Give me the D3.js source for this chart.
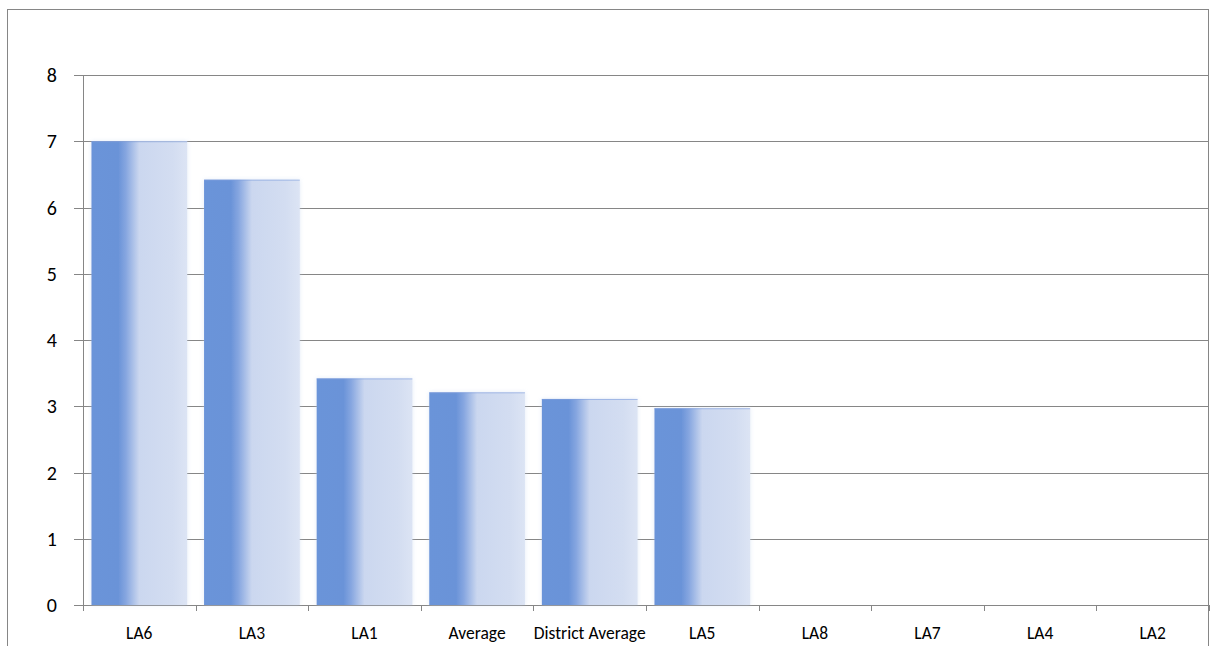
<!DOCTYPE html>
<html>
<head>
<meta charset="utf-8">
<script src="https://cdn.jsdelivr.net/npm/d3@7"></script>
<style>
  body { margin: 0; background: #fff; }
  svg { display: block; }
</style>
</head>
<body>
<svg id="chart" width="1213" height="646"></svg>
<script>
var categories = ["LA6", "LA3", "LA1", "Average", "District Average", "LA5", "LA8", "LA7", "LA4", "LA2"];
var values = [7.0, 6.42, 3.42, 3.21, 3.11, 2.97, 0, 0, 0, 0];
var yTicks = [0, 1, 2, 3, 4, 5, 6, 7, 8];

var W = 1213, H = 646;
var margin = { left: 83, right: 4, top: 75, bottom: 41 };
var fontFam = "Carlito, Lato, 'Open Sans', sans-serif";

var svg = d3.select("#chart");

// outer frame
svg.append("rect")
  .attr("x", 7.5).attr("y", 9.5)
  .attr("width", 1201).attr("height", 700)
  .attr("fill", "none")
  .attr("stroke", "#868686")
  .attr("stroke-width", 1);

var x = d3.scaleBand()
  .domain(categories)
  .range([margin.left, W - margin.right])
  .paddingInner(0.15)
  .paddingOuter(0.075);

var y = d3.scaleLinear().domain([0, 8]).range([H - margin.bottom, margin.top]);

var defs = svg.append("defs");
var grad = defs.append("linearGradient").attr("id", "barGrad")
  .attr("x1", "0").attr("x2", "1").attr("y1", "0").attr("y2", "0");
[[0, "#6b94d9"], [0.28, "#6a93d8"], [0.36, "#86a6e0"], [0.5, "#cbd7ef"], [0.85, "#d3ddf1"], [1, "#dce4f4"]]
  .forEach(function (s) {
    grad.append("stop").attr("offset", s[0]).attr("stop-color", s[1]);
  });
var glow = defs.append("filter").attr("id", "glow")
  .attr("x", "-10%").attr("y", "-10%").attr("width", "120%").attr("height", "120%");
glow.append("feGaussianBlur").attr("in", "SourceAlpha").attr("stdDeviation", 2).attr("result", "b");
glow.append("feFlood").attr("flood-color", "#c8d6f0").attr("flood-opacity", 0.5);
glow.append("feComposite").attr("in2", "b").attr("operator", "in").attr("result", "g");
var fm = glow.append("feMerge");
fm.append("feMergeNode").attr("in", "g");
fm.append("feMergeNode").attr("in", "SourceGraphic");

// gridlines
svg.append("g")
  .selectAll("line")
  .data(yTicks)
  .enter()
  .append("line")
  .attr("x1", margin.left - 9)
  .attr("x2", W - margin.right)
  .attr("y1", function (d) { return Math.round(y(d)) + 0.5; })
  .attr("y2", function (d) { return Math.round(y(d)) + 0.5; })
  .attr("stroke", "#868686")
  .attr("stroke-width", 1);

// y labels
svg.append("g")
  .selectAll("text")
  .data(yTicks)
  .enter()
  .append("text")
  .attr("x", 57)
  .attr("y", function (d) { return y(d) + 7; })
  .attr("text-anchor", "end")
  .attr("font-family", fontFam)
  .attr("font-size", "20px")
  .attr("fill", "#000")
  .text(function (d) { return d; });

// bars
var bars = svg.append("g")
  .selectAll("g")
  .data(values)
  .enter()
  .append("g")
  .style("display", function (d) { return d > 0 ? null : "none"; });

bars.append("rect")
  .attr("x", function (d, i) { return x(categories[i]); })
  .attr("y", function (d) { return y(d); })
  .attr("width", x.bandwidth())
  .attr("height", function (d) { return y(0) - y(d); })
  .attr("fill", "url(#barGrad)")
  .attr("filter", "url(#glow)");

bars.append("line")
  .attr("x1", function (d, i) { return x(categories[i]); })
  .attr("x2", function (d, i) { return x(categories[i]) + x.bandwidth(); })
  .attr("y1", function (d) { return y(d) + 0.5; })
  .attr("y2", function (d) { return y(d) + 0.5; })
  .attr("stroke", "#7f9fdc")
  .attr("stroke-opacity", 0.6);

// axes
svg.append("line")
  .attr("x1", margin.left + 0.5).attr("x2", margin.left + 0.5)
  .attr("y1", y(8)).attr("y2", y(0))
  .attr("stroke", "#868686");

var xTickPos = d3.range(categories.length + 1).map(function (i) {
  return margin.left + i * (W - margin.left - margin.right) / categories.length;
});
svg.append("g")
  .selectAll("line")
  .data(xTickPos)
  .enter()
  .append("line")
  .attr("x1", function (d) { return Math.round(d) + 0.5; })
  .attr("x2", function (d) { return Math.round(d) + 0.5; })
  .attr("y1", y(0))
  .attr("y2", y(0) + 6)
  .attr("stroke", "#868686");

// x labels
svg.append("g")
  .selectAll("text")
  .data(categories)
  .enter()
  .append("text")
  .attr("x", function (d) { return x(d) + x.bandwidth() / 2; })
  .attr("y", 639)
  .attr("text-anchor", "middle")
  .attr("font-family", fontFam)
  .attr("font-size", "17.5px")
  .attr("font-weight", 300)
  .attr("fill", "#000")
  .text(function (d) { return d; });
</script>
</body>
</html>
